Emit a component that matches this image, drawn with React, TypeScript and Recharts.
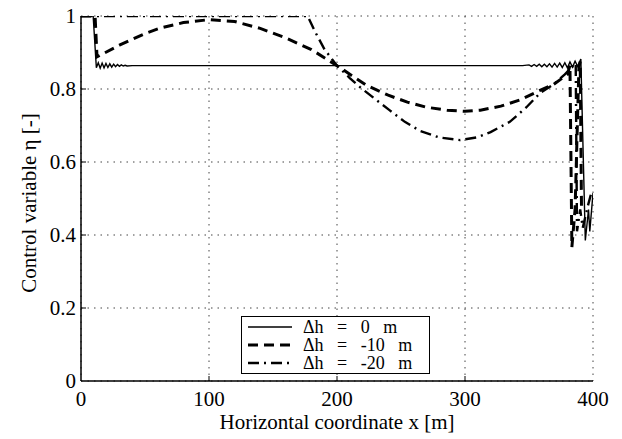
import React from 'react';
import { LineChart, Line, XAxis, YAxis, CartesianGrid, Legend } from 'recharts';

// Δh = 0 m (solid)
const flatData = [
  { x: 0, eta: 1 }, { x: 9.5, eta: 1 }, { x: 12, eta: 0.858 }, { x: 13.5, eta: 0.872 },
  { x: 15, eta: 0.857 }, { x: 16.5, eta: 0.871 }, { x: 18, eta: 0.858 }, { x: 19.5, eta: 0.87 },
  { x: 21, eta: 0.859 }, { x: 22.5, eta: 0.869 }, { x: 24, eta: 0.86 }, { x: 25.5, eta: 0.868 },
  { x: 27, eta: 0.861 }, { x: 28.5, eta: 0.867 }, { x: 30, eta: 0.862 }, { x: 31.5, eta: 0.866 },
  { x: 33, eta: 0.863 }, { x: 34.5, eta: 0.865 }, { x: 36, eta: 0.863 }, { x: 40, eta: 0.864 },
  { x: 200, eta: 0.864 }, { x: 345, eta: 0.864 }, { x: 350, eta: 0.866 }, { x: 352, eta: 0.862 },
  { x: 354, eta: 0.867 }, { x: 356, eta: 0.862 }, { x: 358, eta: 0.868 }, { x: 360, eta: 0.861 },
  { x: 362, eta: 0.868 }, { x: 364, eta: 0.861 }, { x: 366, eta: 0.869 }, { x: 368, eta: 0.86 },
  { x: 370, eta: 0.87 }, { x: 372, eta: 0.86 }, { x: 374, eta: 0.871 }, { x: 376, eta: 0.859 },
  { x: 378, eta: 0.872 }, { x: 380, eta: 0.858 }, { x: 382, eta: 0.874 }, { x: 384, eta: 0.86 },
  { x: 386, eta: 0.876 }, { x: 388, eta: 0.862 }, { x: 390.5, eta: 0.882 }, { x: 394, eta: 0.385 },
  { x: 396.5, eta: 0.47 }, { x: 397.5, eta: 0.41 }, { x: 400, eta: 0.515 },
];

// Δh = -10 m (dashed)
const minus10Data = [
  { x: 0, eta: 1 }, { x: 11, eta: 1 }, { x: 12.5, eta: 0.888 }, { x: 30, eta: 0.92 },
  { x: 50, eta: 0.952 }, { x: 62, eta: 0.967 }, { x: 80, eta: 0.982 }, { x: 100, eta: 0.99 },
  { x: 120, eta: 0.985 }, { x: 140, eta: 0.966 }, { x: 160, eta: 0.94 }, { x: 180, eta: 0.908 },
  { x: 200, eta: 0.864 }, { x: 223, eta: 0.81 }, { x: 240, eta: 0.783 }, { x: 255, eta: 0.764 },
  { x: 270, eta: 0.75 }, { x: 286, eta: 0.742 }, { x: 300, eta: 0.739 }, { x: 312, eta: 0.742 },
  { x: 328, eta: 0.753 }, { x: 343, eta: 0.77 }, { x: 359, eta: 0.797 }, { x: 369, eta: 0.812 },
  { x: 380, eta: 0.84 }, { x: 382, eta: 0.865 }, { x: 383.5, eta: 0.367 }, { x: 386, eta: 0.47 },
  { x: 389, eta: 0.86 }, { x: 390, eta: 0.875 }, { x: 391, eta: 0.48 },
];

// Δh = -20 m (dash-dot)
const minus20Data = [
  { x: 0, eta: 1 }, { x: 177, eta: 1 }, { x: 183, eta: 0.956 }, { x: 190, eta: 0.91 },
  { x: 200, eta: 0.864 }, { x: 210, eta: 0.83 }, { x: 218, eta: 0.805 }, { x: 230, eta: 0.772 },
  { x: 241, eta: 0.742 }, { x: 253, eta: 0.71 }, { x: 265, eta: 0.685 }, { x: 280, eta: 0.667 },
  { x: 296, eta: 0.66 }, { x: 310, eta: 0.668 }, { x: 320, eta: 0.682 }, { x: 335, eta: 0.71 },
  { x: 348, eta: 0.75 }, { x: 359, eta: 0.79 }, { x: 369, eta: 0.812 }, { x: 378, eta: 0.84 },
  { x: 385, eta: 0.865 }, { x: 386.5, eta: 0.87 }, { x: 387.5, eta: 0.41 }, { x: 390, eta: 0.47 },
  { x: 392, eta: 0.42 }, { x: 396, eta: 0.48 }, { x: 399, eta: 0.52 },
];

const xTicks = [0, 100, 200, 300, 400];
const yTicks = [0, 0.2, 0.4, 0.6, 0.8, 1];
const seriesNames = ['Δh = 0 m', 'Δh = -10 m', 'Δh = -20 m'];
const seriesDash = ['', '10 6', '11 5 2 5'];
const seriesWidth = [1.4, 3, 2.4];

const FONT = "'Liberation Serif', 'Times New Roman', Times, Tinos, 'DejaVu Serif', 'Noto Serif', serif";

const XTick = (props: any) => {
  const { x, y, payload } = props;
  const axisY = y - 10;
  return (
    <g>
      {payload.value !== 0 && payload.value !== 400 && (
        <line x1={x} x2={x} y1={axisY} y2={axisY - 5} stroke="#000" strokeWidth={1} />
      )}
      <text x={x} y={y + 15} textAnchor="middle" fontSize={21} style={{ fontFamily: FONT }} fill="#000">
        {payload.value}
      </text>
    </g>
  );
};

const YTick = (props: any) => {
  const { x, y, payload } = props;
  const axisX = x + 5;
  return (
    <g>
      {payload.value !== 0 && payload.value !== 1 && (
        <line x1={axisX} x2={axisX + 5} y1={y} y2={y} stroke="#000" strokeWidth={1} />
      )}
      <text x={x} y={y + 7} textAnchor="end" fontSize={21} style={{ fontFamily: FONT }} fill="#000">
        {payload.value}
      </text>
    </g>
  );
};

const LegendBox = () => (
  <div
    style={{
      border: '1px solid #000',
      background: '#fff',
      padding: '1px 6px',
      fontFamily: FONT,
      fontSize: 18,
      lineHeight: '18px',
      width: 189,
      height: 58,
      boxSizing: 'border-box',
    }}
  >
    {seriesNames.map((name, i) => (
      <div key={name} style={{ display: 'flex', alignItems: 'center', height: 18 }}>
        <svg width={44} height={10} style={{ flex: 'none' }}>
          <line
            x1={0}
            y1={5}
            x2={44}
            y2={5}
            stroke="#000"
            strokeWidth={seriesWidth[i]}
            strokeDasharray={seriesDash[i] || undefined}
          />
        </svg>
        <span style={{ marginLeft: 11, wordSpacing: 9, whiteSpace: 'nowrap' }}>{name}</span>
      </div>
    ))}
  </div>
);

export default function App() {
  return (
    <div style={{ position: 'absolute', left: 0, top: 0, background: '#fff', fontFamily: FONT }}>
      <LineChart width={622} height={439} margin={{ top: 16, right: 29, bottom: 0, left: 0 }}>
        <CartesianGrid stroke="#444" strokeDasharray="1.5 5" strokeWidth={1} />
        <XAxis
          dataKey="x"
          type="number"
          domain={[0, 400]}
          ticks={xTicks}
          height={58}
          tickLine={false}
          tickSize={0}
          tickMargin={10}
          axisLine={{ stroke: '#000', strokeWidth: 1.5 }}
          tick={<XTick />}
          allowDataOverflow
          label={{
            content: () => (
              <text x={337} y={429} textAnchor="middle" fontSize={21} style={{ fontFamily: FONT }} fill="#000">
                Horizontal coordinate x [m]
              </text>
            ),
          }}
        />
        <YAxis
          type="number"
          domain={[0, 1]}
          ticks={yTicks}
          width={81}
          tickLine={false}
          tickSize={0}
          tickMargin={5}
          axisLine={{ stroke: '#000', strokeWidth: 1.5 }}
          tick={<YTick />}
          allowDataOverflow
          label={{
            content: () => (
              <text
                x={0}
                y={0}
                transform="translate(36 203) rotate(-90)"
                textAnchor="middle"
                fontSize={21}
                style={{ fontFamily: FONT }}
                fill="#000"
              >
                Control variable η [-]
              </text>
            ),
          }}
        />
        <Line
          data={flatData}
          dataKey="eta"
          name={seriesNames[0]}
          type="linear"
          stroke="#000"
          strokeWidth={seriesWidth[0]}
          dot={false}
          isAnimationActive={false}
        />
        <Line
          data={minus10Data}
          dataKey="eta"
          name={seriesNames[1]}
          type="linear"
          stroke="#000"
          strokeWidth={seriesWidth[1]}
          strokeDasharray={seriesDash[1]}
          dot={false}
          isAnimationActive={false}
        />
        <Line
          data={minus20Data}
          dataKey="eta"
          name={seriesNames[2]}
          type="linear"
          stroke="#000"
          strokeWidth={seriesWidth[2]}
          strokeDasharray={seriesDash[2]}
          dot={false}
          isAnimationActive={false}
        />
        <Legend
          layout="horizontal"
          verticalAlign="middle"
          align="center"
          content={<LegendBox />}
          wrapperStyle={{ left: 241, top: 316, width: 189, height: 58 }}
        />
      </LineChart>
    </div>
  );
}
